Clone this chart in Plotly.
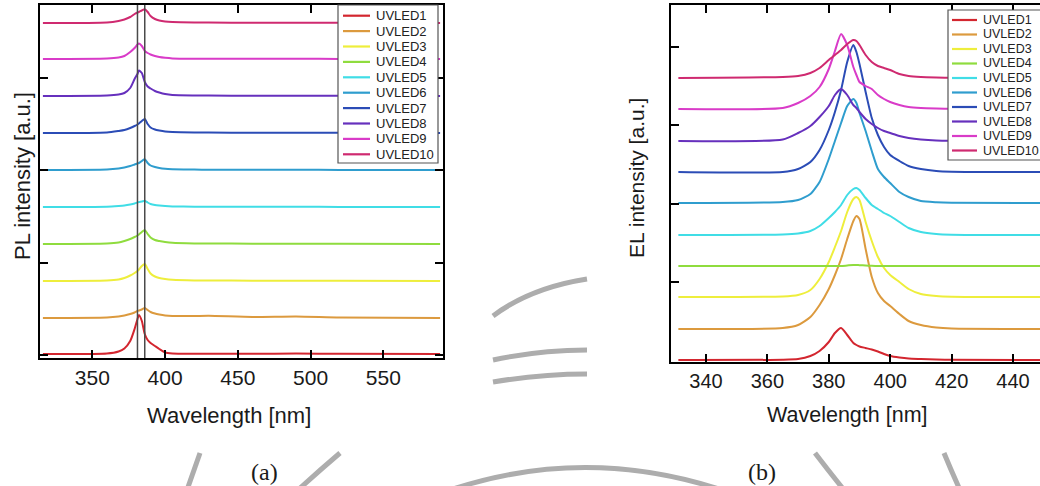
import plotly.graph_objects as go

W, H = 1040, 486

# ---------------- data ----------------
series_names = ["UVLED1", "UVLED2", "UVLED3", "UVLED4", "UVLED5",
                "UVLED6", "UVLED7", "UVLED8", "UVLED9", "UVLED10"]
series_colors = ["#d3262f", "#dc9a3e", "#eeee3c", "#8fdc3e", "#40dde6",
                 "#2f9dce", "#2b4cb6", "#6630bd", "#d93bc8", "#cf2a70"]

# (a) PL spectra  (wavelength in nm, intensity in a.u., stacked with offsets)
pl_wavelength = [316, 360, 368, 372, 376, 379, 381, 382, 384, 386, 388, 390,
                 393, 396, 400, 405, 420, 430, 460, 490, 520, 589]
pl_offsets = [4, 40, 77, 114, 151, 188, 225, 262, 299, 335]
pl_uvled1 = [0, 0.5, 2.5, 5.5, 13, 25, 35, 39, 33, 20, 14, 11, 8, 5, 1.5, 0.5, 0.3, 0.3, 0.2, 0.4, 0.2, 0]
pl_uvled2 = [0, 0.5, 1.5, 2.5, 4, 5.5, 7, 7.5, 8.5, 10, 8, 6, 4.5, 3.5, 2.5, 2, 2, 2.2, 1, 1.5, 0.5, 0]
pl_uvled3 = [0, 0.5, 1.5, 3, 5.5, 8, 10, 11.5, 15, 17, 12, 7.5, 4.5, 3, 2, 1.3, 0.6, 0.5, 0.3, 0.3, 0.2, 0]
pl_uvled4 = [0, 0.5, 1.5, 3, 5, 7, 8.5, 9.5, 12, 14, 10, 6.5, 4, 3, 2, 1.2, 0.6, 0.5, 0.3, 0.3, 0.2, 0]
pl_uvled5 = [0, 0.3, 1, 1.5, 2.5, 3.5, 4.5, 5, 5.5, 6.3, 4.5, 3, 2, 1.5, 1, 0.6, 0.3, 0.3, 0.2, 0.2, 0.1, 0]
pl_uvled6 = [0, 0.5, 1.5, 2.5, 4, 5.5, 6.5, 7, 9, 10.7, 7, 4.5, 3, 2, 1.2, 0.8, 0.4, 0.3, 0.2, 0.2, 0.1, 0]
pl_uvled7 = [0, 0.5, 2, 3, 5, 7, 8.5, 9.5, 12, 14, 9, 5.5, 3.5, 2.5, 1.5, 1, 0.5, 0.4, 0.3, 0.3, 0.2, 0]
pl_uvled8 = [0, 0.5, 1.5, 3, 8, 17, 22, 25.5, 23, 14, 9.5, 7.5, 5, 3.5, 2, 1, 0.5, 0.4, 0.3, 0.3, 0.2, 0]
pl_uvled9 = [0, 0.5, 1.5, 3, 7, 11, 14.5, 15.5, 13, 8, 6, 4.5, 3, 2, 1.2, 0.6, 0.3, 0.3, 0.2, 0.2, 0.1, 0]
pl_uvled10 = [0, 0.5, 2, 3.5, 6, 9, 10.5, 11, 12.5, 13.7, 11, 7, 4, 2.5, 1.5, 1, 0.5, 0.4, 0.3, 0.3, 0.2, 0]
pl_series = [pl_uvled1, pl_uvled2, pl_uvled3, pl_uvled4, pl_uvled5,
             pl_uvled6, pl_uvled7, pl_uvled8, pl_uvled9, pl_uvled10]
pl_marker_lines = [381, 386]
pl_xticks = [350, 400, 450, 500, 550]

# (b) EL spectra
el_wavelength = [331, 365, 370, 374, 377, 380, 382, 384, 386, 388, 389, 390,
                 392, 394, 396, 398, 400, 403, 406, 410, 415, 420, 450]
el_offsets = [2, 33, 65, 96, 127, 159, 190, 221, 253, 284]
el_uvled1 = [0, 0.3, 1, 4, 9, 18, 27, 32, 25, 17, 15, 13.5, 12, 10.5, 8.5, 6, 4, 2.5, 1.5, 1, 0.5, 0.3, 0]
el_uvled2 = [0, 1, 4, 12, 24, 40, 54, 70, 90, 108, 113, 110, 80, 52, 36, 28, 23, 15, 8, 4, 1.5, 0.5, 0]
el_uvled3 = [0, 0.5, 2, 7, 18, 35, 50, 66, 85, 98, 100, 97, 75, 56, 40, 29, 22, 15, 8, 3, 1, 0.3, 0]
el_uvled4 = [0, 0, 0, 0, 0, 0, 0, 0, 0.5, 1, 1, 0.8, 0.5, 0.2, 0, 0, 0, 0, 0, 0, 0, 0, 0]
el_uvled5 = [0, 0.5, 1.5, 4, 9, 17, 23, 30, 40, 46, 47, 45, 37, 30, 26, 22, 19, 13, 7, 3, 1, 0.3, 0]
el_uvled6 = [0, 1, 3, 9, 21, 44, 62, 80, 97, 104, 100, 90, 72, 52, 34, 26, 20, 11, 6, 2, 0.8, 0.3, 0]
el_uvled7 = [0, 0, 3, 10, 22, 42, 60, 82, 110, 127, 120, 108, 80, 54, 37, 25, 17, 11, 6, 3, 1, 0.3, 0]
el_uvled8 = [0, 1.5, 8, 15, 24, 35, 46, 52, 46, 36, 33, 29, 22, 17, 13, 10, 8, 5, 3, 1.5, 0.5, 0.2, 0]
el_uvled9 = [0, 1, 6, 13, 22, 40, 58, 75, 64, 42, 34, 27, 23, 20, 14, 10, 7, 4, 2, 1, 0.5, 0.2, 0]
el_uvled10 = [0, 1, 2, 5, 10, 18, 23, 28, 34, 38, 37, 33, 23, 16, 12, 10, 8, 4, 2, 1, 0.5, 0.2, 0]
el_series = [el_uvled1, el_uvled2, el_uvled3, el_uvled4, el_uvled5,
             el_uvled6, el_uvled7, el_uvled8, el_uvled9, el_uvled10]
el_xticks = [340, 360, 380, 400, 420, 440]

# ---------------- helpers ----------------
def px(x):
    return x / W

def py(y):
    return 1 - y / H

FONT = "Liberation Sans, Arial, sans-serif"
SERIF = "Liberation Serif, Times New Roman, serif"
TXT = "#1a1a1a"

fig = go.Figure()

for name, col, vals, off in zip(series_names, series_colors, pl_series, pl_offsets):
    fig.add_trace(go.Scatter(x=pl_wavelength, y=[v + off for v in vals], mode="lines",
                             name=name, line=dict(color=col, width=2, shape="spline", smoothing=0.6),
                             xaxis="x", yaxis="y", showlegend=False))
for name, col, vals, off in zip(series_names, series_colors, el_series, el_offsets):
    fig.add_trace(go.Scatter(x=el_wavelength, y=[v + off for v in vals], mode="lines",
                             name=name, line=dict(color=col, width=2, shape="spline", smoothing=0.6),
                             xaxis="x2", yaxis="y2", showlegend=False))

axis_common = dict(showline=True, linecolor="black", linewidth=2, ticks="inside",
                   ticklen=8, tickwidth=1.5, tickcolor="black", showgrid=False,
                   zeroline=False)

fig.update_layout(
    width=W, height=H,
    margin=dict(l=0, r=0, t=0, b=0),
    paper_bgcolor="white", plot_bgcolor="white",
    font=dict(family=FONT, color=TXT),
    xaxis=dict(domain=[px(40), px(443)], range=[314, 591], anchor="y", mirror="ticks",
               tickvals=pl_xticks, tickfont=dict(size=21, color=TXT),
               ticklabelstandoff=0, **axis_common),
    yaxis=dict(domain=[py(358), py(5)], range=[0, 353], anchor="x", mirror="ticks",
               tickvals=[3, 95.5, 188, 280.5], showticklabels=False, **axis_common),
    xaxis2=dict(domain=[px(671), 1.0], range=[328.6, 448.8], anchor="y2", mirror="ticks",
                tickvals=el_xticks, tickfont=dict(size=20, color=TXT),
                ticklabelstandoff=0, **axis_common),
    yaxis2=dict(domain=[py(362), py(5)], range=[0, 357], anchor="x2", mirror=False,
                tickvals=[80, 158.5, 237, 315], showticklabels=False, **axis_common),
)

shapes = []
annotations = []

# marker lines in (a)
for wl in pl_marker_lines:
    shapes.append(dict(type="line", xref="x", yref="y domain", x0=wl, x1=wl, y0=0, y1=1,
                       line=dict(color="#4a4a4a", width=1.5), layer="above"))

def label(text, x, y, size, family=FONT, angle=0):
    annotations.append(dict(text=text, x=px(x), y=py(y), xref="paper", yref="paper",
                            xanchor="center", yanchor="middle", showarrow=False,
                            textangle=angle, font=dict(size=size, family=family, color=TXT)))

label("Wavelength [nm]", 229, 415, 22)
label("Wavelength [nm]", 847, 415, 21.5)
label("PL intensity [a.u.]", 22, 176, 22, angle=-90)
label("EL intensity [a.u.]", 636, 178, 21, angle=-90)
label("(a)", 264, 472, 24, family=SERIF)
label("(b)", 762, 472, 24, family=SERIF)

# legends (drawn manually for compact rows)
def add_legend(x0, y0, x1, y1, first_row, row_step, line_x0, line_x1, text_x, fsize):
    shapes.append(dict(type="rect", xref="paper", yref="paper", x0=px(x0), x1=px(x1),
                       y0=py(y1), y1=py(y0), line=dict(color="#555555", width=1.2),
                       fillcolor="white", layer="above"))
    for i, (name, col) in enumerate(zip(series_names, series_colors)):
        yy = first_row + i * row_step
        shapes.append(dict(type="line", xref="paper", yref="paper", x0=px(line_x0), x1=px(line_x1),
                           y0=py(yy), y1=py(yy), line=dict(color=col, width=2.2), layer="above"))
        annotations.append(dict(text=name, x=px(text_x), y=py(yy), xref="paper", yref="paper",
                                xanchor="left", yanchor="middle", showarrow=False,
                                font=dict(size=fsize, family=FONT, color="#222222")))

add_legend(338, 5, 438, 163, 15.7, 15.4, 343, 370, 374, 13)
add_legend(948, 10, 1060, 160, 20, 14.5, 952, 977, 981, 12.5)

# faint watermark arcs visible between / below the panels
wm = dict(color="#adadad", width=5)
wm_paths = [
    [(493, 316), (530, 288), (587, 279)],
    [(493, 360), (540, 350), (587, 350)],
    [(493, 382), (540, 374), (587, 374)],
    [(450, 490), (585, 445), (722, 490)],
    [(200, 453), (194, 470), (187, 490)],
    [(340, 453), (320, 470), (298, 490)],
    [(815, 453), (828, 470), (844, 490)],
    [(944, 453), (951, 470), (960, 490)],
]
for (a, c, b) in wm_paths:
    d = "M {:.5f},{:.5f} Q {:.5f},{:.5f} {:.5f},{:.5f}".format(
        px(a[0]), py(a[1]), px(c[0]), py(c[1]), px(b[0]), py(b[1]))
    shapes.append(dict(type="path", xref="paper", yref="paper", path=d,
                       line=wm, layer="below"))

fig.update_layout(shapes=shapes, annotations=annotations)

fig.write_html("out.html", config={"displayModeBar": False},
               post_script="document.body.style.margin='0';document.body.style.overflow='hidden';")
